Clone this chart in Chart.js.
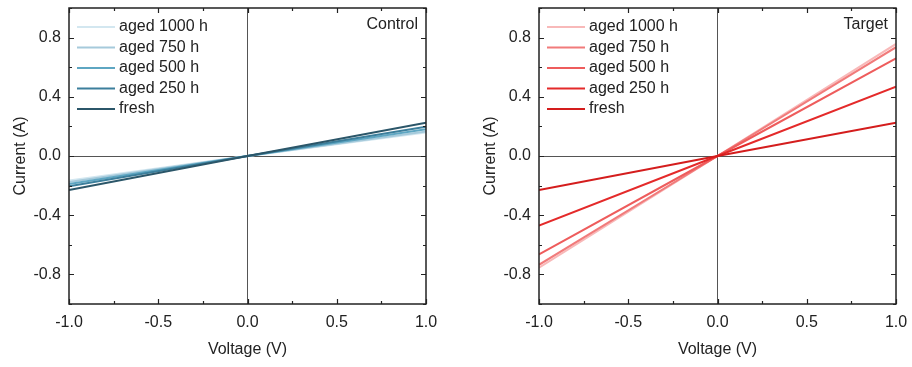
<!DOCTYPE html>
<html>
<head>
<meta charset="utf-8">
<script src="https://cdn.jsdelivr.net/npm/chart.js@4.4.1/dist/chart.umd.min.js"></script>
<style>
  body { margin: 0; background: #fff; width: 912px; height: 367px; position: relative; overflow: hidden; }
  .panel { position: absolute; top: 0; height: 367px; }
  #left { left: 0; width: 450px; }
  #right { left: 470px; width: 442px; }
</style>
</head>
<body>
<div class="panel" id="left"><canvas id="control"></canvas></div>
<div class="panel" id="right"><canvas id="target"></canvas></div>
<script>
// sweep voltages (V)
const voltage = [-1, 0, 1];
const seriesNames = ['aged 1000 h', 'aged 750 h', 'aged 500 h', 'aged 250 h', 'fresh'];

// current (A) at -1, 0, +1 V
const control1000 = [-0.165, 0, 0.158];
const control750 = [-0.175, 0, 0.166];
const control500 = [-0.19, 0, 0.18];
const control250 = [-0.205, 0, 0.198];
const controlFresh = [-0.23, 0, 0.225];

const target1000 = [-0.755, 0, 0.757];
const target750 = [-0.735, 0, 0.735];
const target500 = [-0.665, 0, 0.66];
const target250 = [-0.47, 0, 0.468];
const targetFresh = [-0.23, 0, 0.225];

const controlColors = ['#d3e7f0', '#a6cadb', '#5ea6c2', '#3c7f9c', '#2b5669'];
const targetColors = ['#f8b9b9', '#f17b7b', '#ee5c5c', '#e42a2a', '#d41d1d'];

const FONT = '"Liberation Sans", Arial, sans-serif';

function punti(xs, ys) {
    return xs.map((x, i) => ({ x: x, y: ys[i] }));
}

// frame, inward ticks, legend and panel label
const decorPlugin = {
    id: 'decor',
    afterDraw(chart, args, opts) {
        const ctx = chart.ctx;
        const a = chart.chartArea;
        const xs = chart.scales.x;
        const ys = chart.scales.y;
        ctx.save();
        ctx.strokeStyle = '#222';
        ctx.lineWidth = 1.5;
        ctx.strokeRect(a.left, a.top, a.right - a.left, a.bottom - a.top);

        ctx.lineWidth = 1.2;
        ctx.beginPath();
        xs.ticks.forEach(t => {
            const px = Math.round(xs.getPixelForValue(t.value)) + 0.5;
            const major = Math.abs(Math.round(t.value * 100) % 50) === 0;
            const len = major ? 5 : 3;
            ctx.moveTo(px, a.bottom); ctx.lineTo(px, a.bottom - len);
            ctx.moveTo(px, a.top); ctx.lineTo(px, a.top + len);
        });
        ys.ticks.forEach(t => {
            const py = Math.round(ys.getPixelForValue(t.value)) + 0.5;
            const major = Math.abs(Math.round(t.value * 10) % 4) === 0;
            const len = major ? 5 : 3;
            ctx.moveTo(a.left, py); ctx.lineTo(a.left + len, py);
            ctx.moveTo(a.right, py); ctx.lineTo(a.right - len, py);
        });
        ctx.stroke();

        // legenda
        ctx.font = '16px ' + FONT;
        ctx.textBaseline = 'middle';
        ctx.fillStyle = '#222';
        chart.data.datasets.forEach((ds, i) => {
            const y = a.top + 19 + i * 20.5;
            ctx.strokeStyle = ds.borderColor;
            ctx.lineWidth = 2;
            ctx.beginPath();
            ctx.moveTo(a.left + 8, y);
            ctx.lineTo(a.left + 46, y);
            ctx.stroke();
            ctx.fillText(ds.label, a.left + 50, y);
        });

        ctx.textAlign = 'right';
        ctx.fillText(opts.label, a.right - 8, a.top + 17);
        ctx.restore();
    }
};

function creaGrafico(id, serie, colori, etichetta, destra) {
    const datasets = serie.map((s, i) => ({
        label: seriesNames[i],
        data: punti(voltage, s),
        borderColor: colori[i],
        backgroundColor: colori[i],
        borderWidth: 2,
        pointRadius: 0,
        showLine: true,
        order: serie.length - i
    }));

    return new Chart(document.getElementById(id), {
        type: 'scatter',
        data: { datasets: datasets },
        plugins: [decorPlugin],
        options: {
            responsive: false,
            animation: false,
            layout: { padding: { top: 8, right: destra, left: 0, bottom: 0 } },
            plugins: {
                legend: { display: false },
                tooltip: { enabled: false },
                decor: { label: etichetta }
            },
            scales: {
                x: {
                    type: 'linear',
                    min: -1, max: 1,
                    afterFit: s => {
                        s.height = 63;
                        s.paddingLeft = 0;
                        s.paddingRight = 0;
                    },
                    border: { display: false },
                    grid: {
                        drawTicks: false,
                        color: c => (c.tick && Math.abs(c.tick.value) < 1e-9) ? '#555' : 'transparent',
                        lineWidth: 1
                    },
                    ticks: {
                        stepSize: 0.25,
                        padding: 9,
                        maxRotation: 0,
                        autoSkip: false,
                        color: '#222',
                        font: { family: FONT, size: 16 },
                        callback: v => (Math.abs(Math.round(v * 100) % 50) === 0) ? v.toFixed(1) : ''
                    },
                    title: {
                        display: true,
                        text: 'Voltage (V)',
                        color: '#222',
                        font: { family: FONT, size: 16 },
                        padding: { top: 6, bottom: 8 }
                    }
                },
                y: {
                    type: 'linear',
                    min: -1, max: 1,
                    afterFit: s => {
                        s.width = 69;
                        s.paddingTop = 0;
                        s.paddingBottom = 0;
                    },
                    border: { display: false },
                    grid: {
                        drawTicks: false,
                        color: c => (c.tick && Math.abs(c.tick.value) < 1e-9) ? '#555' : 'transparent',
                        lineWidth: 1
                    },
                    ticks: {
                        stepSize: 0.2,
                        padding: 8,
                        autoSkip: false,
                        color: '#222',
                        font: { family: FONT, size: 16 },
                        callback: v => (Math.abs(v) < 0.99 && Math.abs(Math.round(v * 10) % 4) === 0) ? v.toFixed(1) : ''
                    },
                    title: {
                        display: true,
                        text: 'Current (A)',
                        color: '#222',
                        font: { family: FONT, size: 16 },
                        padding: { top: 11, bottom: 4 }
                    }
                }
            }
        }
    });
}

const cv = document.getElementById('control');
cv.width = 450; cv.height = 367;
const tv = document.getElementById('target');
tv.width = 442; tv.height = 367;

creaGrafico('control', [control1000, control750, control500, control250, controlFresh], controlColors, 'Control', 24);
creaGrafico('target', [target1000, target750, target500, target250, targetFresh], targetColors, 'Target', 16);
</script>
</body>
</html>
